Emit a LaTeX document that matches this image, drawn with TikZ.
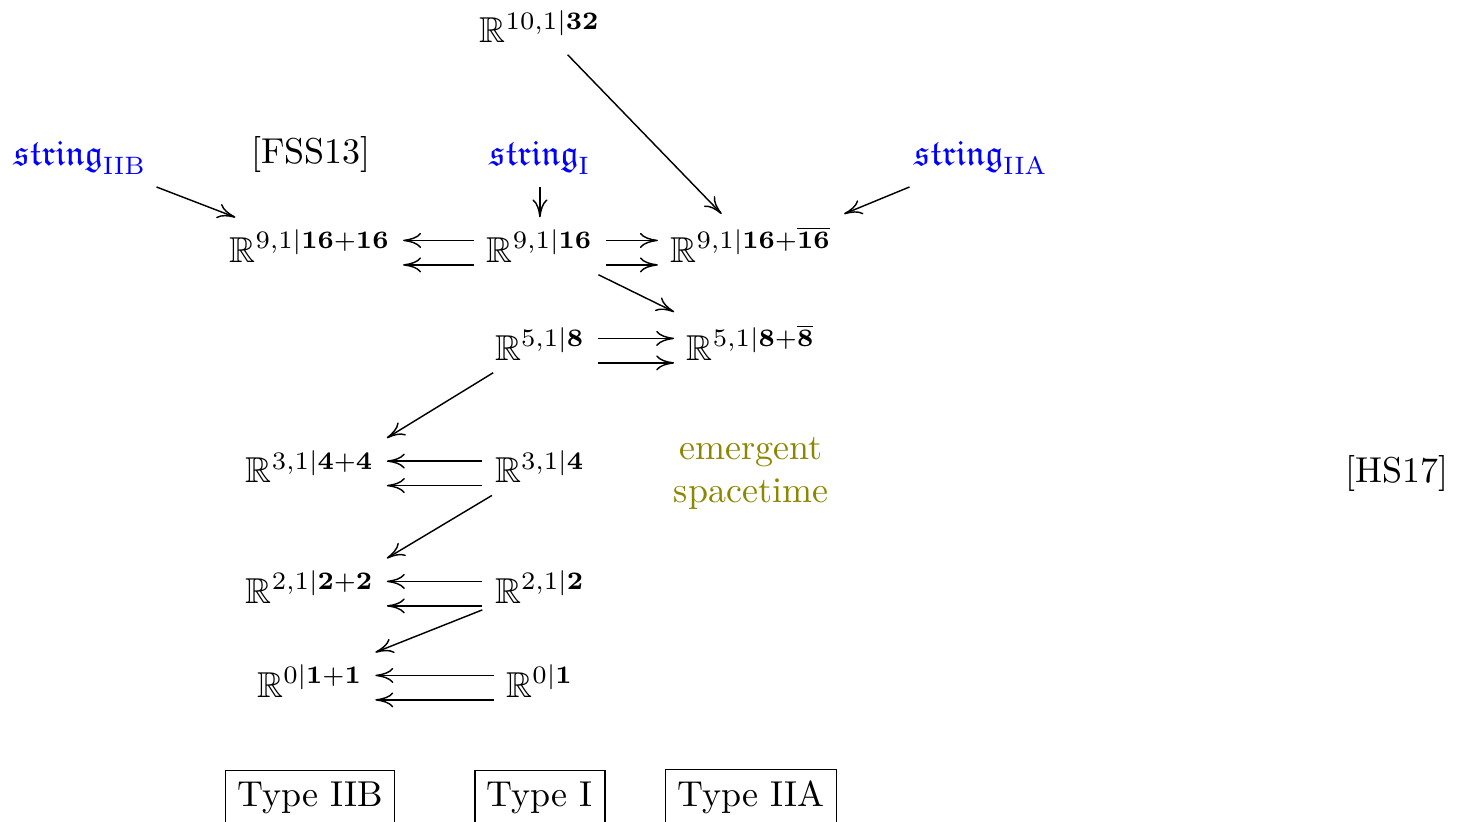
\documentclass[tikz,border=0pt]{standalone}
\usepackage{amssymb,amsmath}
\usepackage{xcolor}
\usetikzlibrary{arrows.meta}

\begin{document}
\begin{tikzpicture}[>={To[length=5pt,width=4.2pt]},
  sp/.style={anchor=base},
  str/.style={anchor=base, text=blue},
  typebox/.style={draw, anchor=base}]
\useasboundingbox (0,0) rectangle (14.307,8.018);
% Draw spacetimes
\node[sp] (R11) at (5.273,7.607) {$\mathbb{R}^{10,1|\mathbf{32}}$};
\node[sp] (R10IIB) at (3.027,5.459) {$\mathbb{R}^{9,1|\mathbf{16}+\mathbf{16}}$};
\node[sp] (R10I) at (5.273,5.459) {$\mathbb{R}^{9,1|\mathbf{16}}$};
\node[sp] (R10IIA) at (7.334,5.459) {$\mathbb{R}^{9,1|\mathbf{16}+\overline{\mathbf{16}}}$};
\node[sp] (R6I) at (5.273,4.502) {$\mathbb{R}^{5,1|\mathbf{8}}$};
\node[sp] (R6IIA) at (7.334,4.502) {$\mathbb{R}^{5,1|\mathbf{8}+\overline{\mathbf{8}}}$};
\node[sp] (R4IIB) at (3.027,3.304) {$\mathbb{R}^{3,1|\mathbf{4}+\mathbf{4}}$};
\node[sp] (R4I) at (5.273,3.304) {$\mathbb{R}^{3,1|\mathbf{4}}$};
\node[sp] (R3IIB) at (3.027,2.129) {$\mathbb{R}^{2,1|\mathbf{2}+\mathbf{2}}$};
\node[sp] (R3I) at (5.273,2.129) {$\mathbb{R}^{2,1|\mathbf{2}}$};
\node[sp] (R1IIB) at (3.027,1.211) {$\mathbb{R}^{0|\mathbf{1}+\mathbf{1}}$};
\node[sp] (R1I) at (5.273,1.211) {$\mathbb{R}^{0|\mathbf{1}}$};
% Draw strings
\node[str] (sIIB) at (0.781,6.40) {$\mathfrak{string}_{\mathrm{IIB}}$};
\node[str] (sI) at (5.273,6.40) {$\mathfrak{string}_{\mathrm{I}}$};
\node[str] (sIIA) at (9.580,6.40) {$\mathfrak{string}_{\mathrm{IIA}}$};
% Draw references and labels
\node (fss) at (3.036,6.509) {[FSS13]};
\node (hs) at (13.643,3.398) {[HS17]};
\node[text=olive, align=center] (emerg) at (7.334,3.398) {emergent\\spacetime};
\node[typebox] (tIIB) at (3.027,0.137) {Type IIB};
\node[typebox] (tI) at (5.273,0.137) {Type I};
\node[typebox] (tIIA) at (7.334,0.137) {Type IIA};
% Draw double arrows
\foreach \a/\b in {R10I/R10IIB, R4I/R4IIB, R3I/R3IIB, R1I/R1IIB} {
    \draw[->] ([yshift=6pt]\a.base west) -- ([yshift=6pt]\b.base east);
    \draw[->] ([yshift=-0.8pt]\a.base west) -- ([yshift=-0.8pt]\b.base east);
}
\foreach \a/\b in {R10I/R10IIA, R6I/R6IIA} {
    \draw[->] ([yshift=6pt]\a.base east) -- ([yshift=6pt]\b.base west);
    \draw[->] ([yshift=-0.8pt]\a.base east) -- ([yshift=-0.8pt]\b.base west);
}
% Draw single arrows
\foreach \a/\b in {R11/R10IIA, sIIB/R10IIB, sI/R10I}
    \draw[->] (\a) -- (\b);
\foreach \a/\b in {R6I/R4IIB, R4I/R3IIB, R3I/R1IIB}
    \draw[->] (\a) -- (\b.north east);
\draw[->] (R10I) -- (R6IIA.north west);
\draw[->] (sIIA) -- (R10IIA.north east);
\end{tikzpicture}
\end{document}
